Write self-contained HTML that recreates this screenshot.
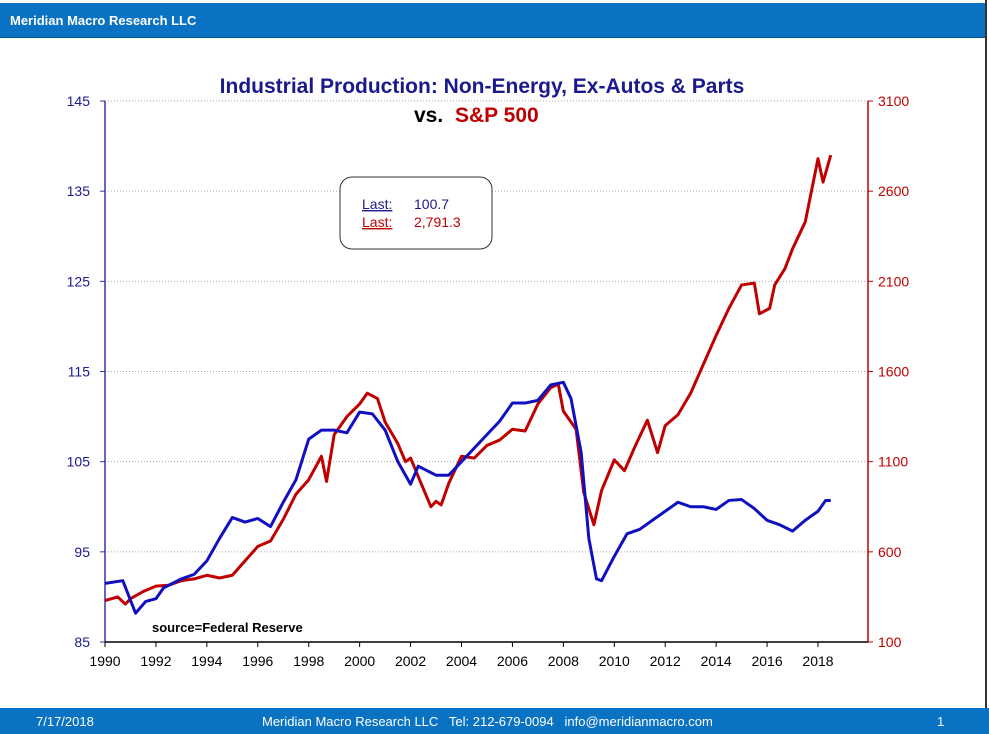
<!DOCTYPE html>
<html><head><meta charset="utf-8"><style>
body{margin:0;width:989px;height:734px;overflow:hidden;background:#fff;font-family:"Liberation Sans",sans-serif;position:relative}
.hdr{position:absolute;left:0;top:3px;width:985px;height:34px;background:#0a72c2;border-bottom:1px solid #0a4f8a}
.hdr span{position:absolute;left:10px;top:10px;color:#fff;font-size:13px;font-weight:bold}
.ftr{position:absolute;left:0;top:708px;width:989px;height:26px;background:#0a72c2;color:#fff;font-size:13px}
.vline{position:absolute;left:985px;top:0;width:2px;height:708px;background:#333}
</style></head><body>
<div class="hdr"><span>Meridian Macro Research LLC</span></div>
<div class="vline"></div>
<svg id="chart" width="989" height="734" style="position:absolute;left:0;top:0"></svg>
<div class="ftr">
<span style="position:absolute;left:36px;top:6px">7/17/2018</span>
<span style="position:absolute;left:262px;top:6px">Meridian Macro Research LLC &nbsp; Tel: 212-679-0094 &nbsp; info@meridianmacro.com</span>
<span style="position:absolute;left:937px;top:6px">1</span>
</div>
<script>
const ipYears=[1990,1990.7,1991.2,1991.6,1992,1992.3,1993,1993.5,1994,1994.5,1995,1995.5,1996,1996.5,1997,1997.5,1998,1998.5,1999,1999.5,2000,2000.5,2001,2001.5,2002,2002.3,2003,2003.5,2004,2004.5,2005,2005.5,2006,2006.5,2007,2007.5,2008,2008.3,2008.7,2009,2009.3,2009.5,2010,2010.5,2011,2011.5,2012,2012.5,2013,2013.5,2014,2014.5,2015,2015.5,2016,2016.5,2017,2017.5,2018,2018.3,2018.5];
const ipValues=[91.5,91.8,88.2,89.5,89.8,91,92,92.5,94,96.5,98.8,98.3,98.7,97.8,100.5,103,107.5,108.5,108.5,108.2,110.5,110.3,108.5,105,102.5,104.5,103.5,103.5,105,106.5,108,109.5,111.5,111.5,111.8,113.5,113.8,112,106,96.5,92,91.8,94.5,97,97.5,98.5,99.5,100.5,100,100,99.7,100.7,100.8,99.8,98.5,98,97.3,98.5,99.5,100.7,100.7];
const spYears=[1990,1990.5,1990.8,1991,1991.5,1992,1992.5,1993,1993.5,1994,1994.5,1995,1995.5,1996,1996.5,1997,1997.5,1998,1998.5,1998.7,1999,1999.5,2000,2000.3,2000.7,2001,2001.5,2001.8,2002,2002.5,2002.8,2003,2003.2,2003.5,2004,2004.5,2005,2005.5,2006,2006.5,2007,2007.5,2007.8,2008,2008.5,2008.8,2009.2,2009.5,2010,2010.4,2010.8,2011.3,2011.7,2012,2012.5,2013,2013.5,2014,2014.5,2015,2015.5,2015.7,2016.1,2016.3,2016.7,2017,2017.5,2018,2018.2,2018.5];
const spValues=[330,350,310,340,380,410,415,440,450,470,455,470,550,630,660,780,920,1000,1130,990,1250,1350,1420,1480,1450,1320,1200,1100,1120,950,850,880,860,980,1130,1120,1190,1220,1280,1270,1420,1510,1530,1380,1280,930,750,940,1110,1050,1180,1330,1150,1300,1360,1480,1640,1800,1950,2080,2090,1920,1950,2080,2170,2280,2430,2780,2650,2800];
const leftTicks=[85,95,105,115,125,135,145];
const rightTicks=[100,600,1100,1600,2100,2600,3100];
const xTicks=[1990,1992,1994,1996,1998,2000,2002,2004,2006,2008,2010,2012,2014,2016,2018];
const X0=105,X1=868,YT=101,YB=642;
const xs=y=>X0+(y-1990)*(818-105)/28;
const yl=v=>YT+(145-v)*(YB-YT)/60;
const yr=v=>YT+(3100-v)*(YB-YT)/3000;
const svg=document.getElementById('chart');const NS='http://www.w3.org/2000/svg';
function mk(t,a,txt){const e=document.createElementNS(NS,t);for(const k in a)e.setAttribute(k,a[k]);if(txt!=null)e.textContent=txt;svg.appendChild(e);return e;}
leftTicks.forEach((v,i)=>{const y=yl(v);
if(i>0&&i<leftTicks.length){const g=mk('line',{x1:X0,x2:X1,y1:y,y2:y,stroke:'#aaa','stroke-dasharray':'1,2','stroke-width':1});}
const t=mk('text',{x:90,y:y+5,'text-anchor':'end','font-size':14,fill:'#1a1a8c'},v);
mk('line',{x1:X0-5,x2:X0,y1:y,y2:y,stroke:'#3333aa'});});
rightTicks.forEach(v=>{const y=yr(v);const t=mk('text',{x:878,y:y+5,'font-size':14,fill:'#c00000'},v);mk('line',{x1:X1,x2:X1+5,y1:y,y2:y,stroke:'#c00000'});});
xTicks.forEach(v=>{const x=xs(v);mk('line',{x1:x,x2:x,y1:YB,y2:YB+5,stroke:'#000'});const t=mk('text',{x:x,y:YB+24,'text-anchor':'middle','font-size':14,fill:'#000'},v);});
let a=mk('line',{x1:X0,x2:X0,y1:YT,y2:YB,stroke:'#3333aa','stroke-width':1.5});
a=mk('line',{x1:X1,x2:X1,y1:YT,y2:YB,stroke:'#c00000','stroke-width':1.5});
a=mk('line',{x1:X0,x2:X1,y1:YB,y2:YB,stroke:'#000','stroke-width':1.5});
let p=mk('polyline',{points:spYears.map((y,i)=>xs(y)+','+yr(spValues[i])).join(' '),fill:'none',stroke:'#c00000','stroke-width':3,'stroke-linejoin':'round'});

p=mk('polyline',{points:ipYears.map((y,i)=>xs(y)+','+yl(ipValues[i])).join(' '),fill:'none',stroke:'#1010c0','stroke-width':3,'stroke-linejoin':'round'});

let t=mk('text',{x:482,y:93,'text-anchor':'middle','font-size':21,'font-weight':'bold',fill:'#1a1a8c'},'Industrial Production: Non-Energy, Ex-Autos & Parts');
t=mk('text',{x:414,y:122,'font-size':21,'font-weight':'bold',fill:'#000'},'vs. ');
t=mk('text',{x:455,y:122,'font-size':21,'font-weight':'bold',fill:'#c00000'},'S&P 500');
let b=mk('rect',{x:340,y:177,width:152,height:72,rx:12,fill:'#fff',stroke:'#333','stroke-width':1});
t=mk('text',{x:362,y:209,'font-size':14,fill:'#1a1a8c','text-decoration':'underline'},'Last:');
t=mk('text',{x:414,y:209,'font-size':14,fill:'#1a1a8c'},ipValues[ipValues.length-1].toFixed(1));
t=mk('text',{x:362,y:227,'font-size':14,fill:'#c00000','text-decoration':'underline'},'Last:');
t=mk('text',{x:414,y:227,'font-size':14,fill:'#c00000'},'2,791.3');
t=mk('text',{x:152,y:632,'font-size':13,'font-weight':'bold',fill:'#000'},'source=Federal Reserve');
</script>
</body></html>
